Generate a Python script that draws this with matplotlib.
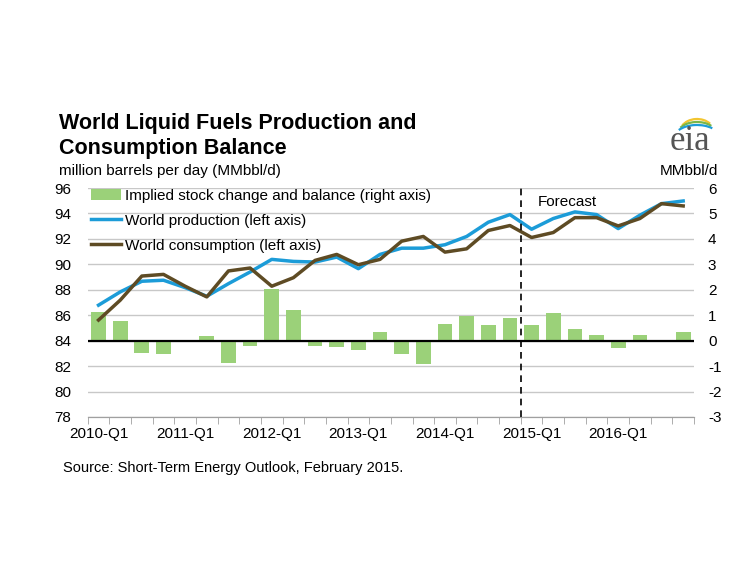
import matplotlib
matplotlib.use('Agg')
import matplotlib.pyplot as plt
from matplotlib.patches import Arc
import numpy as np

plt.rcParams['font.family'] = ['Liberation Sans', 'DejaVu Sans']
plt.rcParams['axes.unicode_minus'] = False

# quarterly data, 2010-Q1 .. 2016-Q4
quarters = [f'{y}-Q{q}' for y in range(2010, 2017) for q in range(1, 5)]
production = [86.79, 87.83, 88.67, 88.75, 88.17, 87.49, 88.48, 89.40, 90.39, 90.23,
              90.18, 90.57, 89.66, 90.78, 91.27, 91.27, 91.54, 92.19, 93.31, 93.91,
              92.76, 93.60, 94.12, 93.91, 92.81, 93.86, 94.77, 94.98]
consumption = [85.62, 87.18, 89.08, 89.21, 88.28, 87.44, 89.48, 89.71, 88.28, 88.95,
               90.31, 90.78, 89.97, 90.39, 91.82, 92.19, 90.96, 91.22, 92.66, 93.05,
               92.11, 92.50, 93.67, 93.67, 93.02, 93.60, 94.77, 94.59]
stock_change = [1.12, 0.76, -0.50, -0.53, 0.02, 0.18, -0.89, -0.22, 2.02, 1.21,
                -0.20, -0.23, -0.38, 0.35, -0.51, -0.90, 0.64, 0.96, 0.63, 0.89,
                0.63, 1.10, 0.45, 0.22, -0.30, 0.22, 0.0, 0.35]
forecast_start = 20

green = '#9bd179'
blue = '#1c9cd8'
brown = '#5e4b24'

x = np.arange(len(quarters))

fig = plt.figure(figsize=(7.46, 5.63), dpi=100)
ax = fig.add_axes([87.7/746, 1-417/563, (694-87.7)/746, (417-188)/563])
ax2 = ax.twinx()

# bars on right scale
ax.set_ylim(-3, 6)
ax.set_xlim(-0.5, len(quarters)-0.5)
for v in range(-3, 7):
    ax.axhline(v, color='#c8c8c8', lw=1, zorder=0)
ax.axhline(0, color='black', lw=1.6, zorder=3)
bars = ax.bar(x, stock_change, width=0.68, color=green, zorder=2,
              label='Implied stock change and balance (right axis)')
ax.yaxis.tick_right()
ax.set_yticks(range(-3, 7))
ax.tick_params(axis='y', length=0, labelsize=11, pad=10)

# lines on left scale
ax2.set_ylim(78, 96)
ax2.yaxis.tick_left()
ax2.set_yticks(range(78, 97, 2))
ax2.tick_params(axis='y', length=0, labelsize=11, pad=12)
l1, = ax2.plot(x, production, color=blue, lw=2.5, label='World production (left axis)')
l2, = ax2.plot(x, consumption, color=brown, lw=2.5, label='World consumption (left axis)')
ax2.axvline(forecast_start-0.5, color='black', lw=1.2, ls=(0, (4, 3)))
ax2.text(forecast_start+0.3, 94.9, 'Forecast', fontsize=11, va='center')

for a in (ax, ax2):
    for s in ('top', 'left', 'right'):
        a.spines[s].set_visible(False)
    a.spines['bottom'].set_color('#a0a0a0')

ax.set_xticks(x[::4])
ax.set_xticklabels(quarters[::4], fontsize=11)
ax.set_xticks(np.arange(-0.5, len(quarters), 1), minor=True)
ax.tick_params(axis='x', which='major', length=0, pad=7)
ax.tick_params(axis='x', which='minor', length=5, color='#a0a0a0', direction='out')

leg = ax2.legend(handles=[bars, l1, l2], loc='upper left', fontsize=11, frameon=False,
                 bbox_to_anchor=(-0.01, 1.035), handlelength=2.0, handletextpad=0.25,
                 labelspacing=0.7, borderaxespad=0.2)

fig.text(59/746, 1-124/563, 'World Liquid Fuels Production and',
         fontsize=15.5, fontweight='bold', va='center')
fig.text(59/746, 1-148/563, 'Consumption Balance',
         fontsize=15.5, fontweight='bold', va='center')
fig.text(59/746, 1-171/563, 'million barrels per day (MMbbl/d)', fontsize=11, va='center')
fig.text(718/746, 1-171/563, 'MMbbl/d', fontsize=11, va='center', ha='right')
fig.text(63/746, 1-468/563, 'Source: Short-Term Energy Outlook, February 2015.',
         fontsize=10.5, va='center')

# eia logo
fig.text(690/746, 1-141/563, 'eia', fontsize=25, family='Liberation Serif',
         color='#555555', ha='center', va='center')
for w, c, dy in [(34, '#f2c530', 0), (40, '#7ab648', 3), (46, '#1c9cd8', 6)]:
    fig.add_artist(Arc((697/746, 1-(132+dy)/563), w/746, 26/563, theta1=40, theta2=150,
                       color=c, lw=1.6, transform=fig.transFigure))

fig.savefig('out.png', dpi=100)
